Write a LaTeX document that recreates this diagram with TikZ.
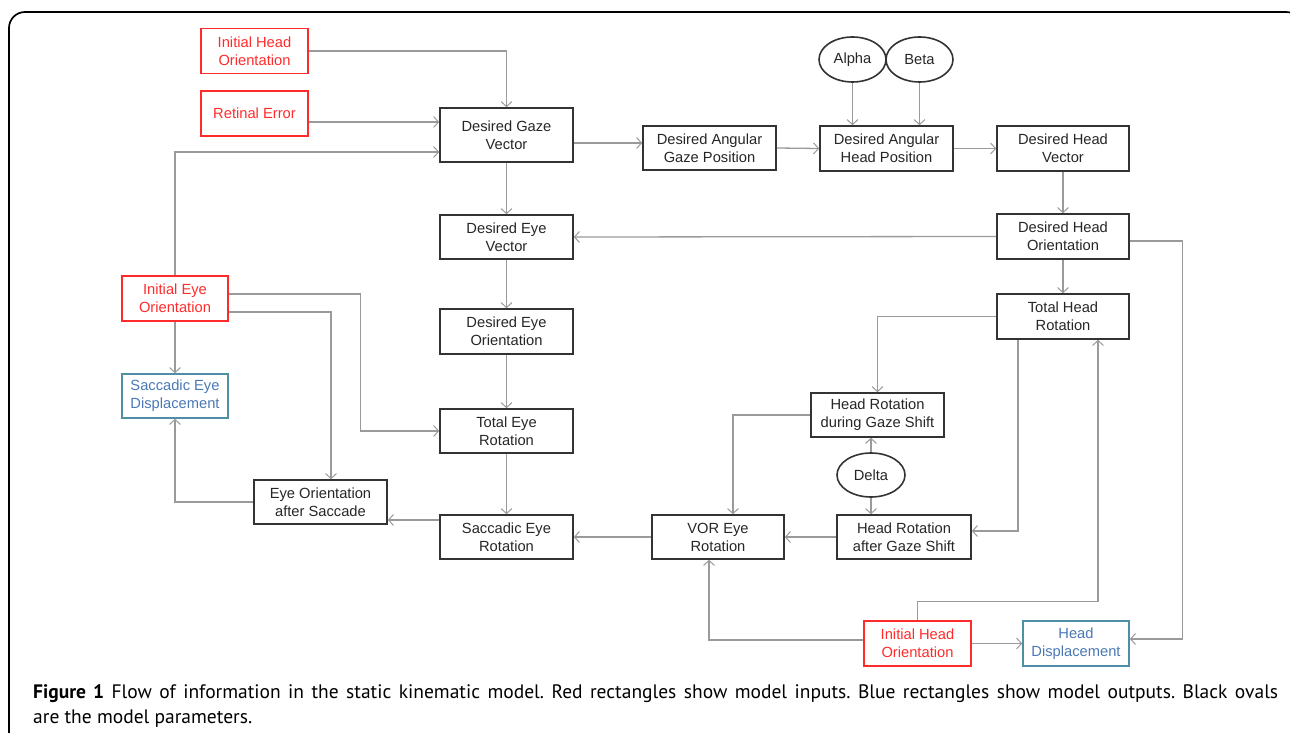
\documentclass[tikz,border=0pt]{standalone}
\usepackage{fontspec}
\setmainfont{Liberation Sans}
\newfontfamily\capfont{PT Sans}
\usetikzlibrary{arrows.meta,shapes.geometric}
\definecolor{conn}{HTML}{9A9A9A}
\definecolor{boxline}{HTML}{333333}
\definecolor{inred}{HTML}{FF2B2B}
\definecolor{outblue}{HTML}{4E8FA6}
\definecolor{outtext}{HTML}{4A78B5}
\begin{document}
\begin{tikzpicture}[x=1pt,y=-1pt,
  font=\fontsize{14.7}{18}\selectfont,
  >={Straight Barb[length=5pt,width=11pt,line width=1pt]},
  arr/.style={draw=conn,line width=1.3pt,->},
  blk/.style={draw=boxline,line width=1.6pt,align=center,inner sep=0pt,minimum width=133pt,minimum height=44pt,text=black!85},
  inbox/.style={blk,draw=inred,text=inred,minimum width=107pt,minimum height=45pt},
  outbox/.style={blk,draw=outblue,text=outtext,minimum width=106pt,minimum height=44pt},
  param/.style={ellipse,draw=boxline,line width=1.6pt,inner sep=0pt,minimum width=67pt,minimum height=45pt,text=black!85}]
\useasboundingbox (0,0) rectangle (1290,733);
\draw[line width=1.7pt,rounded corners=16pt] (9,12) rectangle (1302,748);
% nodes
\node[inbox] (ihoT) at (254.5,51) {Initial Head\\Orientation};
\node[inbox] (re) at (254.5,113.5) {Retinal Error};
\node[blk,minimum height=54pt] (dgv) at (506.5,135) {Desired Gaze\\Vector};
\node[blk] (dagp) at (709.5,148) {Desired Angular\\Gaze Position};
\node[blk,minimum height=45pt] (dahp) at (886.5,148.5) {Desired Angular\\Head Position};
\node[param] (alpha) at (852.5,59.5) {Alpha};
\node[param] (beta) at (919.5,59.5) {Beta};
\node[blk,minimum width=132pt,minimum height=45pt] (dhv) at (1063,148.5) {Desired Head\\Vector};
\node[blk] (dev) at (506.5,237) {Desired Eye\\Vector};
\node[blk,minimum width=132pt,minimum height=45pt] (dho) at (1063,236.5) {Desired Head\\Orientation};
\node[inbox,minimum width=106pt] (ieo) at (175,298.5) {Initial Eye\\Orientation};
\node[blk,minimum height=45pt] (deo) at (506.5,331.5) {Desired Eye\\Orientation};
\node[blk,minimum width=132pt,minimum height=45pt] (thr) at (1063,316.5) {Total Head\\Rotation};
\node[outbox] (sed) at (175,396) {Saccadic Eye\\Displacement};
\node[blk] (hrd) at (877.5,415) {Head Rotation\\during Gaze Shift};
\node[blk] (ter) at (506.5,431) {Total Eye\\Rotation};
\node[param,minimum width=68pt,minimum height=44pt] (delta) at (871,475) {Delta};
\node[blk] (eos) at (320.5,502) {Eye Orientation\\after Saccade};
\node[blk] (ser) at (506.5,537) {Saccadic Eye\\Rotation};
\node[blk,minimum width=132pt] (vor) at (718,537) {VOR Eye\\Rotation};
\node[blk,minimum width=134pt] (hra) at (904,537) {Head Rotation\\after Gaze Shift};
\node[inbox] (ihoB) at (917.5,643.5) {Initial Head\\Orientation};
\node[outbox,minimum height=45pt] (hd) at (1076,643.5) {Head\\Displacement};
% connectors
\draw[arr] (ihoT.east) -| (dgv.north);
\draw[arr] ([yshift=-8.5pt]re.east) -- ([yshift=13pt]dgv.west);
\draw[arr] (ieo.north) |- ([yshift=-17pt]dgv.west);
\draw[arr] ([yshift=-8pt]dgv.east) -- ([yshift=5pt]dagp.west);
\draw[arr] (dagp.east) -- (dahp.west);
\draw[arr] (alpha.south) -- (alpha.south |- dahp.north);
\draw[arr] (beta.south) -- (beta.south |- dahp.north);
\draw[arr] (dahp.east) -- (dhv.west);
\draw[arr] (dhv.south) -- (dho.north);
\draw[arr] (dgv.south) -- (dev.north);
\draw[arr] (dho.west) -- (dev.east);
\draw[arr] (dho.south) -- (thr.north);
\draw[arr] ([yshift=-4.5pt]dho.east) -- ++(53,0) |- ([yshift=4.5pt]hd.east);
\draw[arr] (dev.south) -- (deo.north);
\draw[arr] (deo.south) -- (ter.north);
\draw[arr] ([yshift=4.5pt]ieo.east) -- ++(132,0) |- (ter.west);
\draw[arr] ([yshift=-13.5pt]ieo.east) -| ([xshift=10.5pt]eos.north);
\draw[arr] (ieo.south) -- (sed.north);
\draw[arr] (eos.west) -| (sed.south);
\draw[arr] (ter.south) -- (ser.north);
\draw[arr] ([yshift=17pt]ser.west) -- ([yshift=-18pt]eos.east);
\draw[arr] (vor.west) -- (ser.east);
\draw[arr] (thr.west) -| (hrd.north);
\draw[arr] (hrd.west) -| ([xshift=15pt]vor.north);
\draw[arr] (delta.north) -- (delta.north |- hrd.south);
\draw[arr] (delta.south) -- (delta.south |- hra.north);
\draw[arr] (hra.west) -- (vor.east);
\draw[arr] ([xshift=-45pt]thr.south) |- ([yshift=6pt]hra.east);
\draw[arr] (ihoB.north) -- ++(0,-19) -| ([xshift=35pt]thr.south);
\draw[arr] ([yshift=3.5pt]ihoB.west) -| ([xshift=-9pt]vor.south);
\draw[arr] (ihoB.east) -- (hd.west);
% caption
\node[anchor=base west,inner sep=0pt,text width=1245pt,align=justify,font=\capfont\frenchspacing\fontsize{19.5}{25}\selectfont] (cap) at (33,698)
 {\textbf{Figure 1} Flow of information in the static kinematic model. Red rectangles show model inputs. Blue rectangles show model outputs. Black ovals\linebreak are the model parameters.};
\end{tikzpicture}
\end{document}
